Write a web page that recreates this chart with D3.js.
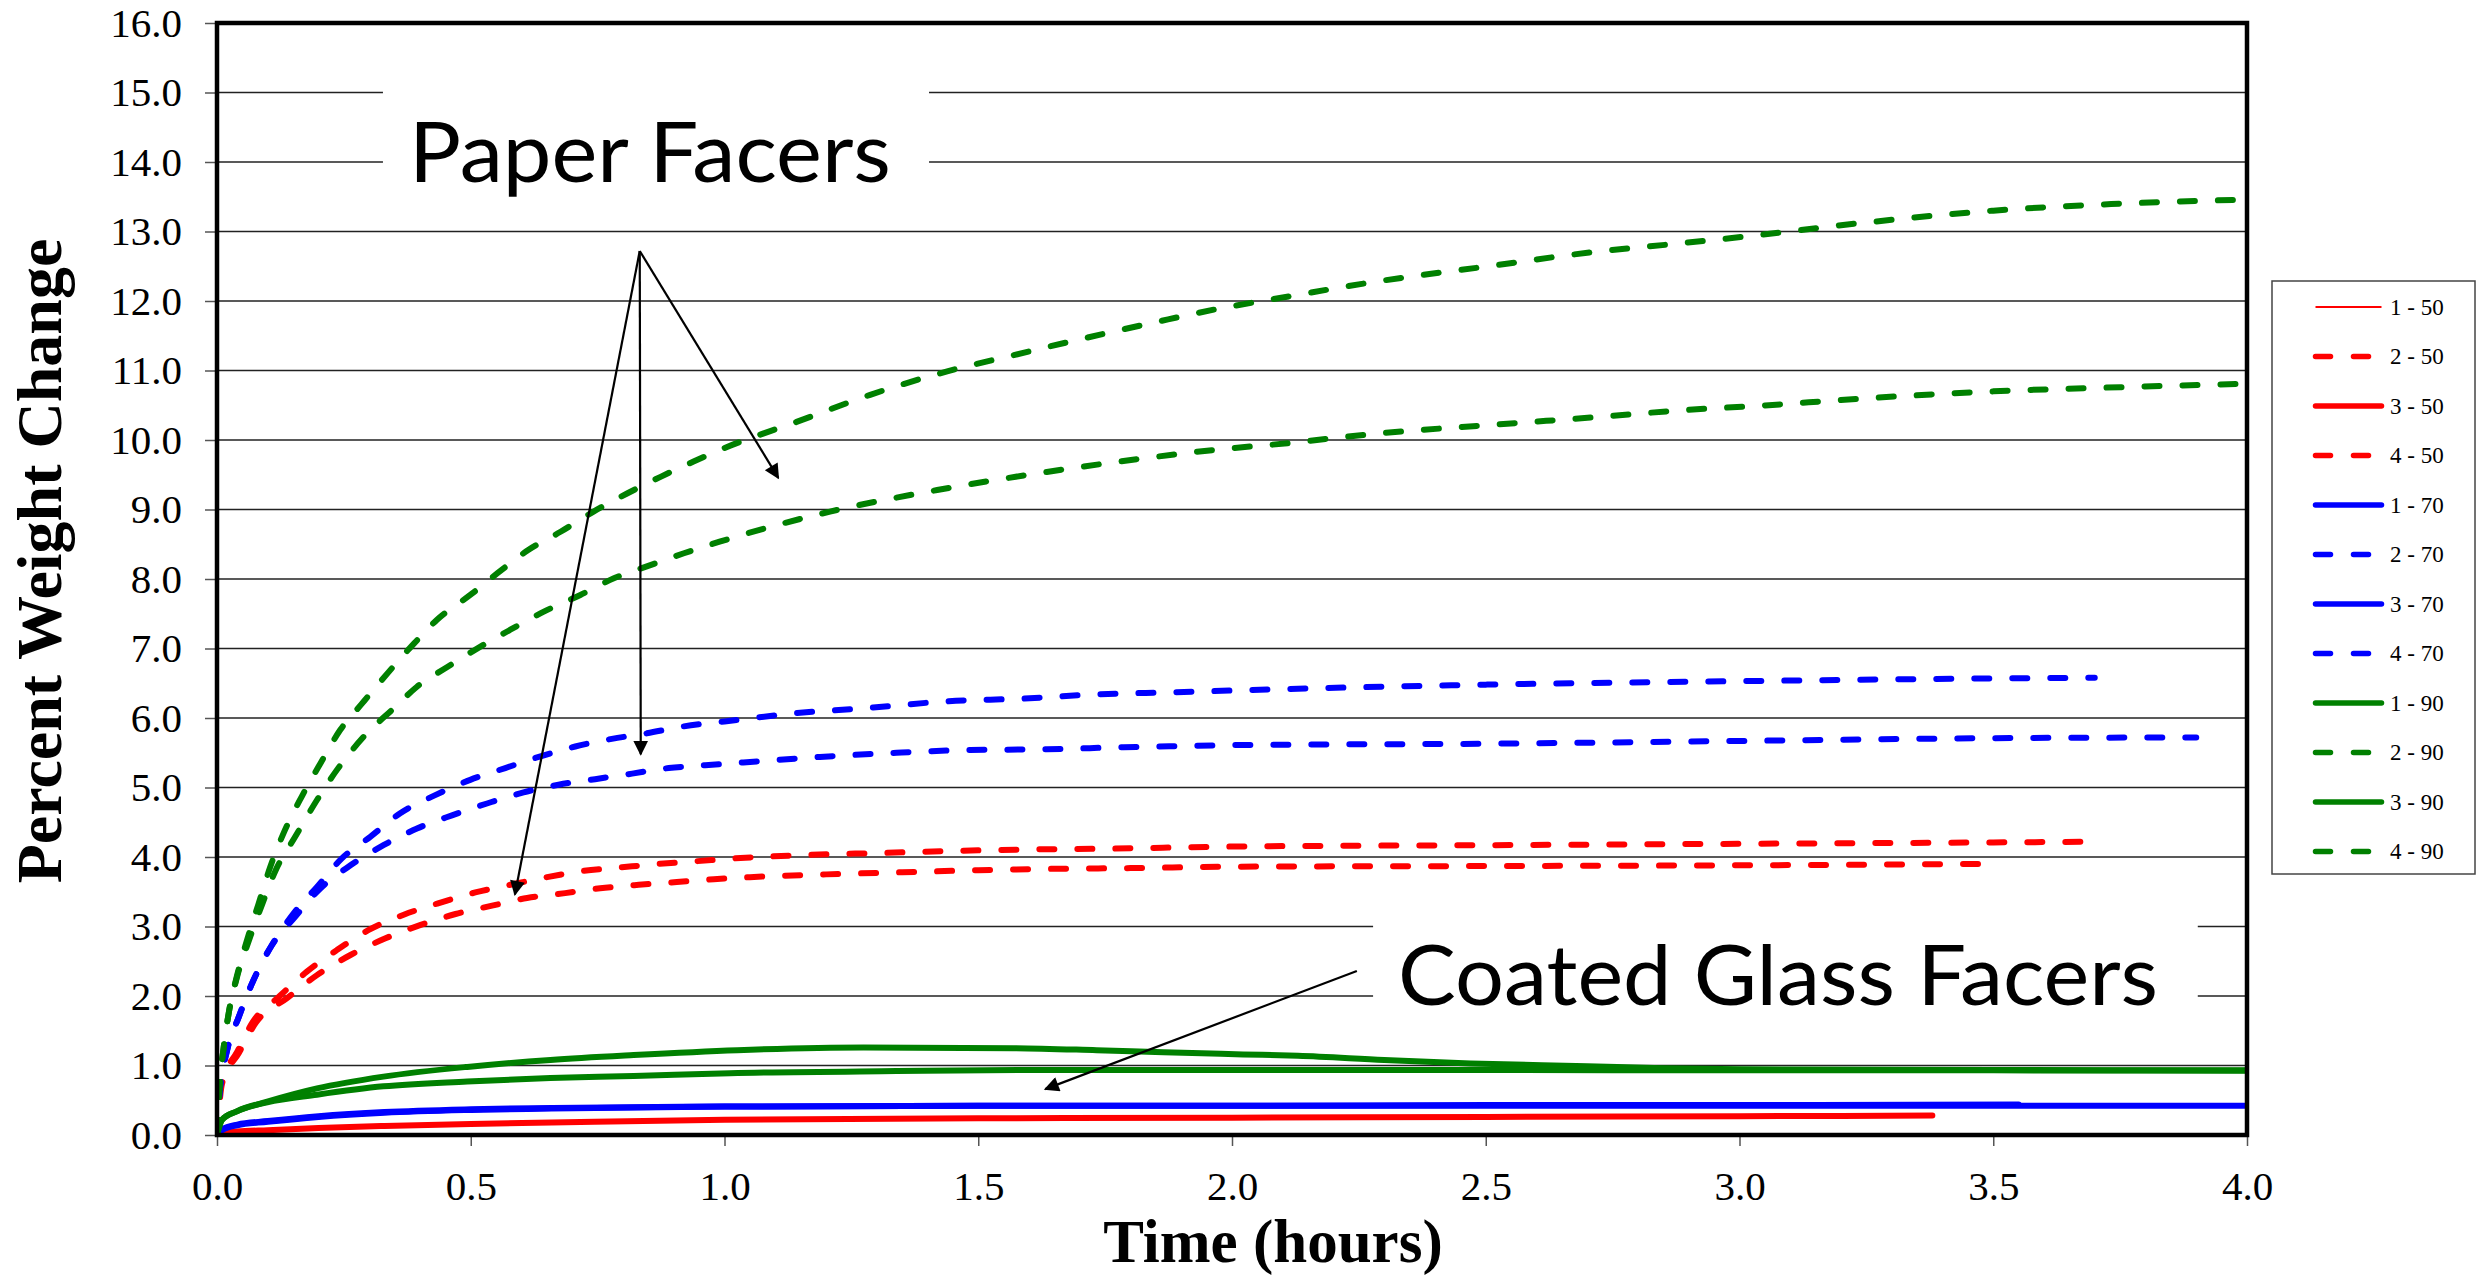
<!DOCTYPE html>
<html>
<head>
<meta charset="utf-8">
<script src="https://cdn.jsdelivr.net/npm/d3@7"></script>
<style>
    body { margin: 0; background: #fff; }
    svg { display: block; }
</style>
</head>
<body>
<div id="chart"></div>
<script>
// series labels and styles, in legend order
let seriesNames = ["1 - 50", "2 - 50", "3 - 50", "4 - 50", "1 - 70", "2 - 70", "3 - 70", "4 - 70", "1 - 90", "2 - 90", "3 - 90", "4 - 90"];
let seriesColors = ["#ff0000", "#ff0000", "#ff0000", "#ff0000", "#0000ff", "#0000ff", "#0000ff", "#0000ff", "#008000", "#008000", "#008000", "#008000"];
let seriesDashed = [false, true, false, true, false, true, false, true, false, true, false, true];

// [hours, percent weight change]
let s1_50 = [[0,0],[0.01,0.02],[0.04,0.04],[0.1,0.06],[0.2,0.09],[0.33,0.12],[0.5,0.15],[0.66,0.17],[1.0,0.21],[1.5,0.23],[2.0,0.24],[2.5,0.25],[3.0,0.26],[3.38,0.27]];
let s2_50 = [[0,0],[0.01,0.74],[0.043,1.18],[0.076,1.61],[0.138,1.97],[0.197,2.30],[0.263,2.59],[0.332,2.83],[0.40,3.02],[0.47,3.18],[0.542,3.30],[0.611,3.41],[0.686,3.48],[0.755,3.55],[0.831,3.60],[0.906,3.64],[0.979,3.68],[1.05,3.71],[1.2,3.75],[1.35,3.78],[1.5,3.81],[1.65,3.83],[1.8,3.84],[2.0,3.86],[2.5,3.87],[3.0,3.88],[3.47,3.90]];
let s3_50 = [[0,0],[0.01,0.03],[0.04,0.05],[0.1,0.07],[0.2,0.10],[0.33,0.13],[0.5,0.16],[0.66,0.18],[1.0,0.22],[1.5,0.24],[2.0,0.25],[2.5,0.26],[3.0,0.27],[3.38,0.28]];
let s4_50 = [[0,0],[0.008,0.74],[0.04,1.2],[0.07,1.62],[0.122,1.99],[0.177,2.35],[0.236,2.66],[0.299,2.95],[0.368,3.17],[0.434,3.33],[0.509,3.49],[0.578,3.60],[0.65,3.71],[0.722,3.80],[0.795,3.85],[0.87,3.90],[0.946,3.94],[1.018,3.98],[1.168,4.03],[1.319,4.06],[1.464,4.09],[1.615,4.11],[1.759,4.12],[1.91,4.14],[2.0,4.15],[2.5,4.17],[3.0,4.19],[3.5,4.21],[3.70,4.22]];
let s1_70 = [[0,0],[0.01,0.07],[0.04,0.14],[0.1,0.19],[0.2,0.26],[0.33,0.32],[0.5,0.36],[0.66,0.38],[1.0,0.41],[1.5,0.42],[2.0,0.42],[2.5,0.42],[3.0,0.42],[3.5,0.42],[4.0,0.42]];
let s2_70 = [[0,0],[0.005,0.6],[0.02,1.22],[0.043,1.70],[0.072,2.23],[0.108,2.73],[0.151,3.19],[0.197,3.57],[0.246,3.98],[0.302,4.29],[0.361,4.63],[0.43,4.89],[0.499,5.11],[0.568,5.28],[0.634,5.44],[0.706,5.59],[0.778,5.70],[0.847,5.78],[0.92,5.88],[1.0,5.95],[1.142,6.07],[1.293,6.15],[1.438,6.24],[1.589,6.28],[1.733,6.34],[1.884,6.37],[2.022,6.40],[2.5,6.48],[3.0,6.53],[3.5,6.57],[3.70,6.58]];
let s3_70 = [[0,0],[0.01,0.08],[0.04,0.15],[0.1,0.2],[0.2,0.27],[0.33,0.33],[0.5,0.37],[0.66,0.39],[1.0,0.41],[1.5,0.42],[2.0,0.42],[2.5,0.43],[3.0,0.43],[3.55,0.44]];
let s4_70 = [[0,0],[0.005,0.6],[0.02,1.22],[0.043,1.70],[0.072,2.23],[0.108,2.73],[0.154,3.14],[0.204,3.55],[0.263,3.88],[0.328,4.17],[0.394,4.41],[0.463,4.60],[0.532,4.77],[0.604,4.93],[0.673,5.04],[0.745,5.12],[0.818,5.20],[0.89,5.28],[0.962,5.32],[1.037,5.36],[1.188,5.44],[1.339,5.50],[1.484,5.54],[1.635,5.55],[1.786,5.58],[1.931,5.60],[2.0,5.61],[2.5,5.63],[3.0,5.67],[3.5,5.71],[3.9,5.72]];
let s1_90 = [[0,0],[0.01,0.22],[0.039,0.34],[0.099,0.48],[0.197,0.67],[0.328,0.84],[0.493,0.98],[0.657,1.08],[0.821,1.15],[1.025,1.22],[1.274,1.26],[1.569,1.25],[1.733,1.22],[1.865,1.19],[2.022,1.16],[2.13,1.14],[2.3,1.08],[2.47,1.03],[2.7,0.99],[2.85,0.96],[3.0,0.945],[3.5,0.935],[4.0,0.93]];
let s2_90 = [[0,0],[0.005,0.7],[0.013,1.25],[0.023,1.75],[0.039,2.26],[0.062,2.78],[0.088,3.3],[0.115,3.8],[0.154,4.29],[0.197,4.82],[0.236,5.25],[0.289,5.73],[0.35,6.15],[0.394,6.45],[0.453,6.73],[0.515,7.01],[0.578,7.27],[0.644,7.53],[0.716,7.77],[0.782,8.01],[0.854,8.20],[0.92,8.37],[0.992,8.54],[1.208,8.97],[1.419,9.28],[1.635,9.54],[1.852,9.76],[1.996,9.88],[2.075,9.93],[2.298,10.10],[2.515,10.22],[2.738,10.34],[2.89,10.43],[3.034,10.49],[3.25,10.6],[3.5,10.7],[3.75,10.76],[4.0,10.81]];
let s3_90 = [[0,0],[0.01,0.22],[0.039,0.34],[0.099,0.47],[0.197,0.58],[0.328,0.70],[0.493,0.77],[0.657,0.82],[0.821,0.85],[1.011,0.89],[1.339,0.92],[1.602,0.935],[2.0,0.935],[2.5,0.935],[3.0,0.93],[3.5,0.93],[4.0,0.925]];
let s4_90 = [[0,0],[0.005,0.7],[0.013,1.25],[0.023,1.75],[0.039,2.28],[0.059,2.8],[0.082,3.33],[0.105,3.86],[0.131,4.34],[0.167,4.87],[0.204,5.35],[0.243,5.83],[0.286,6.21],[0.338,6.66],[0.388,7.07],[0.433,7.41],[0.499,7.77],[0.552,8.08],[0.614,8.42],[0.677,8.68],[0.742,8.97],[0.808,9.23],[0.874,9.47],[0.939,9.69],[1.005,9.90],[1.142,10.26],[1.287,10.65],[1.425,10.96],[1.569,11.22],[1.707,11.46],[1.852,11.70],[1.996,11.92],[2.068,12.01],[2.285,12.28],[2.495,12.49],[2.719,12.71],[2.87,12.82],[3.015,12.93],[3.25,13.13],[3.5,13.30],[3.75,13.40],[4.0,13.46]];

let seriesValues = [s1_50, s2_50, s3_50, s4_50, s1_70, s2_70, s3_70, s4_70, s1_90, s2_90, s3_90, s4_90];

let xTicks = [0, 0.5, 1, 1.5, 2, 2.5, 3, 3.5, 4];
let yTicks = d3.range(0, 17, 1);

// annotation arrows in data units: [from hours, from value, to hours, to value]
let paperArrows = [[0.833, 12.72, 0.587, 3.46], [0.833, 12.72, 0.835, 5.48], [0.833, 12.72, 1.106, 9.455]];
let glassArrows = [[2.246, 2.36, 1.632, 0.66]];

window.onload = function () {
    let width = 2479, height = 1280;
    let left = 217, right = 2247, top = 23, bottom = 1135;
    let serif = "'Liberation Serif', 'Times New Roman', serif";

    let svg = d3.select("#chart").append("svg")
        .attr("width", width)
        .attr("height", height);

    let xScale = d3.scaleLinear().domain([0, 4]).range([left, right]);
    let yScale = d3.scaleLinear().domain([0, 16]).range([bottom, top]);

    svg.append("defs").append("clipPath").attr("id", "plotclip")
        .append("rect")
        .attr("x", left).attr("y", top)
        .attr("width", right - left).attr("height", bottom - top);

    let marker = svg.select("defs").append("marker")
        .attr("id", "arrowhead")
        .attr("viewBox", "0 0 10 10")
        .attr("refX", 9).attr("refY", 5)
        .attr("markerWidth", 17).attr("markerHeight", 15)
        .attr("markerUnits", "userSpaceOnUse")
        .attr("orient", "auto");
    marker.append("path").attr("d", "M0,0 L10,5 L0,10 z").attr("fill", "#000");

    // grid lines
    svg.append("g")
        .selectAll("line")
        .data(yTicks.filter(d => d > 0 && d < 16))
        .enter().append("line")
        .attr("x1", left).attr("x2", right)
        .attr("y1", d => yScale(d)).attr("y2", d => yScale(d))
        .style("stroke", "#222")
        .style("stroke-width", 1.4);

    // y axis
    let yAxis = svg.append("g")
        .attr("transform", "translate(" + left + ",0)")
        .call(d3.axisLeft(yScale).tickValues(yTicks).tickFormat(d3.format(".1f")).tickSize(12).tickPadding(23))
        .attr("font-family", serif)
        .attr("font-size", 41);
    yAxis.select(".domain").remove();
    yAxis.selectAll(".tick line").style("stroke", "#555").style("stroke-width", 1.5);
    yAxis.selectAll(".tick text").style("font-family", serif).style("font-size", "41px").style("fill", "#000");

    // x axis
    let xAxis = svg.append("g")
        .attr("transform", "translate(0," + bottom + ")")
        .call(d3.axisBottom(xScale).tickValues(xTicks).tickFormat(d3.format(".1f")).tickSize(11).tickPadding(25))
        .attr("font-family", serif)
        .attr("font-size", 41);
    xAxis.select(".domain").remove();
    xAxis.selectAll(".tick line").style("stroke", "#555").style("stroke-width", 1.5);
    xAxis.selectAll(".tick text").style("font-family", serif).style("font-size", "41px").style("fill", "#000");

    // annotation label boxes (hide the grid behind the text)
    let labels = [
        {text: "Paper Facers", cx: 0.853, base: 13.71, x0: 0.327, x1: 1.403, y0: 13.17, y1: 15.47, len: 482},
        {text: "Coated Glass Facers", cx: 3.076, base: 1.87, x0: 2.278, x1: 3.903, y0: 1.37, y1: 3.38, len: 760}
    ];
    let lab = svg.append("g");
    lab.selectAll("rect")
        .data(labels)
        .enter().append("rect")
        .attr("x", d => xScale(d.x0))
        .attr("y", d => yScale(d.y1))
        .attr("width", d => xScale(d.x1) - xScale(d.x0))
        .attr("height", d => yScale(d.y0) - yScale(d.y1))
        .style("fill", "#fff");
    lab.selectAll("text")
        .data(labels)
        .enter().append("text")
        .attr("x", d => xScale(d.cx))
        .attr("y", d => yScale(d.base))
        .attr("text-anchor", "middle")
        .attr("textLength", d => d.len)
        .attr("lengthAdjust", "spacingAndGlyphs")
        .style("font-family", "Lato, 'Open Sans', sans-serif")
        .style("font-size", "83px")
        .style("fill", "#000")
        .text(d => d.text);

    // series
    let line = d3.line()
        .x(d => xScale(d[0]))
        .y(d => yScale(d[1]))
        .curve(d3.curveMonotoneX);

    let plot = svg.append("g").attr("clip-path", "url(#plotclip)");
    for (let i = 0; i < seriesValues.length; i++) {
        plot.append("path")
            .datum(seriesValues[i])
            .attr("d", line)
            .style("fill", "none")
            .style("stroke", seriesColors[i])
            .style("stroke-width", i == 0 ? 2 : 6)
            .style("stroke-linecap", "round")
            .style("stroke-linejoin", "round")
            .style("stroke-dasharray", seriesDashed[i] ? "15,23" : null);
    }

    // arrows
    svg.append("g")
        .selectAll("line")
        .data(paperArrows.concat(glassArrows))
        .enter().append("line")
        .attr("x1", d => xScale(d[0])).attr("y1", d => yScale(d[1]))
        .attr("x2", d => xScale(d[2])).attr("y2", d => yScale(d[3]))
        .style("stroke", "#000")
        .style("stroke-width", 2.2)
        .attr("marker-end", "url(#arrowhead)");

    // plot border
    svg.append("rect")
        .attr("x", left).attr("y", top)
        .attr("width", right - left).attr("height", bottom - top)
        .style("fill", "none")
        .style("stroke", "#000")
        .style("stroke-width", 4.5);

    // axis titles
    svg.append("text")
        .attr("x", 1273).attr("y", 1262)
        .attr("text-anchor", "middle")
        .style("font-family", serif).style("font-weight", "bold").style("font-size", "61px")
        .text("Time (hours)");
    svg.append("text")
        .attr("transform", "translate(61,561) rotate(-90)")
        .attr("text-anchor", "middle")
        .style("font-family", serif).style("font-weight", "bold").style("font-size", "64px")
        .text("Percent Weight Change");

    // legend
    let legend = svg.append("g");
    legend.append("rect")
        .attr("x", 2272).attr("y", 281)
        .attr("width", 203).attr("height", 593)
        .style("fill", "#fff")
        .style("stroke", "#444")
        .style("stroke-width", 1.5);
    let rows = legend.selectAll("g.row")
        .data(seriesNames)
        .enter().append("g")
        .attr("class", "row")
        .attr("transform", (d, i) => "translate(0," + (307 + i * 49.5) + ")");
    rows.append("line")
        .attr("x1", 2315.5).attr("x2", 2381.5)
        .attr("y1", 0).attr("y2", 0)
        .style("stroke", (d, i) => seriesColors[i])
        .style("stroke-width", (d, i) => i == 0 ? 2 : 5.5)
        .style("stroke-linecap", (d, i) => i == 0 ? "butt" : "round")
        .style("stroke-dasharray", (d, i) => seriesDashed[i] ? "15,23" : null);
    rows.append("text")
        .attr("x", 2390).attr("y", 0)
        .attr("dy", "0.33em")
        .style("font-family", serif).style("font-size", "23px").style("fill", "#000")
        .text(d => d);
};
</script>
</body>
</html>
